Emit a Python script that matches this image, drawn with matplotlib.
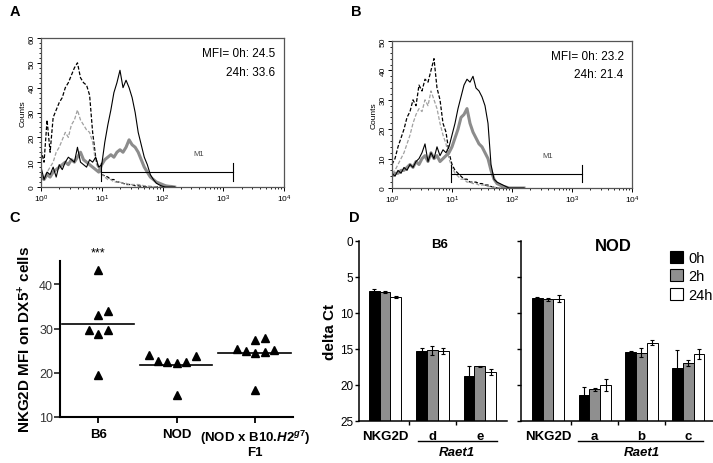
import matplotlib
matplotlib.use("Agg")
import matplotlib.pyplot as plt
import matplotlib.transforms as mtransforms
from matplotlib.patches import Patch
from matplotlib.ticker import LogLocator, NullFormatter, MultipleLocator, FixedLocator

plt.rcParams['font.family'] = ['Liberation Sans', 'DejaVu Sans']
plt.rcParams['mathtext.fontset'] = 'custom'
plt.rcParams['mathtext.rm'] = 'Liberation Sans:bold'
plt.rcParams['mathtext.it'] = 'Liberation Sans:italic:bold'
plt.rcParams['mathtext.bf'] = 'Liberation Sans:bold'

# ---- flow histograms (A, B): channel position in log10 decades ----
chan = [0.00, 0.05, 0.10, 0.15, 0.20, 0.25, 0.30, 0.35, 0.40, 0.45,
        0.50, 0.55, 0.60, 0.65, 0.70, 0.75, 0.80, 0.85, 0.90, 0.95,
        1.00, 1.05, 1.10, 1.15, 1.20, 1.25, 1.30, 1.35, 1.40, 1.45,
        1.50, 1.55, 1.60, 1.65, 1.70, 1.75, 1.80, 1.85, 1.90, 1.95,
        2.00, 2.05, 2.10, 2.15, 2.20]

a_iso_0h = [15, 10, 27, 14, 28, 31, 34, 36, 40, 42,
            45, 48, 50, 44, 42, 41, 37, 22, 12, 7,
            5, 4.5, 4, 3, 3, 2, 2, 1.5, 1, 1,
            1, 0.5, 0.5, 0.3, 0.2, 0, 0, 0, 0, 0,
            0, 0, 0, 0, 0]
a_iso_24h = [5, 4, 6, 8, 10, 14, 16, 19, 22, 20,
             25, 27, 31, 27, 25, 23, 22, 18, 10, 7,
             5, 4, 3, 3, 2, 2, 2, 1.5, 1.5, 1,
             1, 1, 1, 0.8, 0.5, 0.4, 0.3, 0.2, 0, 0,
             0, 0, 0, 0, 0]
a_nkg_0h = [8, 3, 6, 5, 8, 4, 9, 7, 10, 12,
            11, 10, 16, 10, 9, 8, 11, 10, 12, 8,
            9, 18, 25, 31, 38, 42, 47, 40, 43, 40,
            36, 30, 22, 17, 12, 9, 5, 3, 1.5, 0.8,
            0.3, 0, 0, 0, 0]
a_nkg_24h = [4, 3, 5, 4, 6, 7, 8, 9, 10, 9,
             11, 10, 12, 14, 11, 10, 9, 8, 7, 6,
             9, 11, 12, 13, 12, 14, 15, 14, 16, 19,
             17, 16, 14, 11, 8, 6, 4, 3, 2, 1.5,
             1, 0.5, 0.3, 0.2, 0]

b_iso_0h = [8, 10, 14, 17, 20, 24, 26, 30, 28, 35,
            33, 37, 36, 40, 44, 34, 30, 22, 19, 12,
            8, 6, 5, 4, 3, 3, 2, 2, 2, 1.5,
            1.5, 1, 1, 0.5, 0.3, 0, 0, 0, 0, 0,
            0, 0, 0, 0, 0]
b_iso_24h = [5, 6, 8, 10, 12, 15, 18, 22, 25, 27,
             26, 30, 28, 33, 30, 27, 22, 18, 15, 10,
             7, 5, 4, 3, 3, 2, 2, 1.5, 1.5, 1,
             1, 1, 0.5, 0.5, 0.3, 0.2, 0, 0, 0, 0,
             0, 0, 0, 0, 0]
b_nkg_0h = [5, 4, 6, 5, 7, 6, 8, 7, 9, 10,
            12, 15, 9, 12, 10, 14, 11, 13, 12, 14,
            18, 22, 27, 31, 35, 37, 36, 38, 34, 33,
            31, 28, 22, 8, 3, 2, 1.5, 1, 0.5, 0,
            0, 0, 0, 0, 0]
b_nkg_24h = [4, 5, 5, 6, 6, 7, 8, 7, 9, 8,
             10, 11, 9, 12, 10, 11, 9, 10, 11, 12,
             14, 17, 20, 24, 25, 27, 22, 19, 17, 15,
             14, 12, 10, 6, 3, 1.5, 1, 0.5, 0.3, 0,
             0, 0, 0, 0, 0]

mfi_a = ["MFI= 0h: 24.5", "24h: 33.6"]
mfi_b = ["MFI= 0h: 23.2", "24h: 21.4"]
gate_a = [9.8, 1450]
gate_b = [9.5, 1480]

# ---- panel C ----
strains = ["B6", "NOD", "(NOD x B10.$\\it{H2}^{g7}$)\nF1"]
mfi_b6 = [43.2, 33.0, 33.9, 29.6, 28.8, 29.6, 19.4]
mfi_nod = [24.0, 22.6, 22.4, 22.2, 22.5, 23.7, 14.9]
mfi_f1 = [25.4, 24.9, 27.4, 24.5, 27.9, 24.8, 25.2, 16.0]
cols_b6 = [0, 0, 1, -1, 0, 1, 0]
cols_nod = [-3, -2, -1, 0, 1, 2, 0]
cols_f1 = [-2, -1, 0, 0, 1, 1, 2, 0]

# ---- panel D: delta Ct ----
times = ["0h", "2h", "24h"]
b6_genes = ["NKG2D", "d", "e"]
b6_ct = {"0h": [6.9, 15.3, 18.7], "2h": [7.1, 15.2, 17.4], "24h": [7.8, 15.3, 18.2]}
b6_err = {"0h": [0.2, 0.45, 1.4], "2h": [0.1, 0.6, 0.1], "24h": [0.15, 0.45, 0.45]}
nod_genes = ["NKG2D", "a", "b", "c"]
nod_ct = {"0h": [7.9, 21.4, 15.4, 17.6], "2h": [8.1, 20.6, 15.5, 16.9],
          "24h": [8.0, 20.0, 14.1, 15.7]}
nod_err = {"0h": [0.1, 1.1, 0.1, 2.4], "2h": [0.2, 0.2, 0.6, 0.4],
           "24h": [0.5, 0.9, 0.4, 0.7]}

fig = plt.figure(figsize=(7.13, 4.64), dpi=100)
W, H = 713, 464


def box(x0, y0, x1, y1):
    return [x0 / W, 1 - y1 / H, (x1 - x0) / W, (y1 - y0) / H]


def flow_panel(ax, iso0, iso24, nkg0, nkg24, ymax, mfi, gate, m1_level):
    x = [10 ** c for c in chan]
    dash = (0, (3, 1.5))
    ax.plot(x, iso0, color='black', lw=0.9, ls=dash)
    ax.plot(x, iso24, color='#a0a0a0', lw=0.9, ls=dash)
    ax.plot(x, nkg24, color='#8c8c8c', lw=2.2)
    ax.plot(x, nkg0, color='black', lw=0.8)
    ax.set_xscale('log')
    ax.set_xlim(1, 1e4)
    ax.set_ylim(0, ymax)
    ax.xaxis.set_major_locator(LogLocator(base=10, numticks=10))
    ax.xaxis.set_minor_locator(LogLocator(base=10, subs=range(2, 10), numticks=50))
    ax.xaxis.set_minor_formatter(NullFormatter())
    ax.yaxis.set_major_locator(MultipleLocator(10))
    ax.yaxis.set_minor_locator(MultipleLocator(2))
    ax.tick_params(axis='both', which='major', labelsize=6, length=3, width=0.7, pad=1)
    ax.tick_params(axis='both', which='minor', length=1.5, width=0.6)
    ax.tick_params(axis='y', labelrotation=90)
    for lab in ax.get_yticklabels():
        lab.set_va('center')
    for s in ax.spines.values():
        s.set_color('#555555')
        s.set_linewidth(0.9)
    ax.set_ylabel("Counts", fontsize=6, labelpad=1)
    # M1 gate
    ax.plot(gate, [m1_level, m1_level], color='black', lw=0.8)
    for g in gate:
        ax.plot([g, g], [m1_level - 3.5 * ymax / 60, m1_level + 3.5 * ymax / 60], color='black', lw=0.8)
    ax.text(10 ** 2.6, m1_level + 7 * ymax / 60, "M1", fontsize=5.5, color='#444444', ha='center')
    fam = ['Liberation Sans Narrow', 'Liberation Sans', 'DejaVu Sans']
    ax.text(0.965, 0.9, mfi[0], transform=ax.transAxes, ha='right', va='center', fontsize=8.5, family=fam)
    ax.text(0.965, 0.775, mfi[1], transform=ax.transAxes, ha='right', va='center', fontsize=8.5, family=fam)


axA = fig.add_axes(box(41, 39, 284, 188))
flow_panel(axA, a_iso_0h, a_iso_24h, a_nkg_0h, a_nkg_24h, 60, mfi_a, gate_a, 6)
axB = fig.add_axes(box(392, 42, 632, 189))
flow_panel(axB, b_iso_0h, b_iso_24h, b_nkg_0h, b_nkg_24h, 50, mfi_b, gate_b, 4.8)

# ---- panel C ----
axC = fig.add_axes(box(60, 262, 293, 418))
step = 0.12
for i, (vals, cols) in enumerate([(mfi_b6, cols_b6), (mfi_nod, cols_nod), (mfi_f1, cols_f1)]):
    xs = [i + c * step for c in cols]
    axC.plot(xs, vals, ls='none', marker='^', color='black', markersize=6.3)
    m = sum(vals) / len(vals)
    axC.plot([i - 0.47, i + 0.45], [m, m], color='black', lw=1.2)
axC.text(0, 47.2, "***", ha='center', va='center', fontsize=9, clip_on=False)
axC.set_xlim(-0.49, 2.48)
axC.set_ylim(10, 45.3)
axC.set_yticks([10, 20, 30, 40])
axC.set_xticks([0, 1, 2])
axC.set_xticklabels(strains, fontweight='bold', fontsize=9.5, linespacing=1.0)
axC.tick_params(axis='y', labelsize=9, length=4, width=1.3, colors='#333333', pad=1)
axC.tick_params(axis='x', length=4, width=1.3, pad=4)
for s in ['top', 'right']:
    axC.spines[s].set_visible(False)
for s in ['left', 'bottom']:
    axC.spines[s].set_linewidth(1.5)
axC.set_ylabel("NKG2D MFI on DX5$^{+}$ cells", fontsize=11, fontweight='bold', labelpad=4)

# ---- panel D ----
bar_colors = {"0h": "black", "2h": "#8f8f8f", "24h": "white"}
offsets = {"0h": -0.23, "2h": 0.0, "24h": 0.23}


def ct_panel(ax, genes, ct, err, xlim):
    for t in times:
        xs = [g + offsets[t] for g in range(len(genes))]
        hts = [25 - v for v in ct[t]]
        ax.bar(xs, hts, bottom=ct[t], width=0.23, color=bar_colors[t], edgecolor='black',
               linewidth=0.7, label=t, zorder=2)
        ax.errorbar(xs, ct[t], yerr=err[t], fmt='none', ecolor='black', elinewidth=0.8,
                    capsize=1.6, capthick=0.8, zorder=3)
    ax.set_ylim(25, 0)
    ax.set_xlim(*xlim)
    ax.set_yticks([0, 5, 10, 15, 20, 25])
    ax.xaxis.set_major_locator(FixedLocator([g + 0.5 for g in range(len(genes) - 1)]))
    ax.xaxis.set_major_formatter(NullFormatter())
    ax.tick_params(axis='both', length=3, width=1, labelsize=8.5, pad=1)
    for s in ['top', 'right']:
        ax.spines[s].set_visible(False)
    for s in ['left', 'bottom']:
        ax.spines[s].set_linewidth(1.1)
    trans = mtransforms.blended_transform_factory(ax.transData, ax.transAxes)
    for g, name in enumerate(genes):
        ax.text(g, -0.083, name, transform=trans, ha='center', va='center',
                fontweight='bold', fontsize=9.5)
    return trans


axD1 = fig.add_axes(box(359, 242, 507, 422))
tr1 = ct_panel(axD1, b6_genes, b6_ct, b6_err, (-0.547, 2.57))
axD1.plot([0.69, 2.36], [-0.113, -0.113], transform=tr1, clip_on=False, color='black', lw=1)
axD1.text(1.52, -0.175, "Raet1", transform=tr1, ha='center', va='center',
          fontweight='bold', style='italic', fontsize=9.5)
axD1.text(1.16, 0.985, "B6", transform=tr1, ha='center', va='center', fontweight='bold', fontsize=9.5)
axD1.set_ylabel("delta Ct", fontsize=11, fontweight='bold', labelpad=2)

axD2 = fig.add_axes(box(521, 242, 713, 422))
tr2 = ct_panel(axD2, nod_genes, nod_ct, nod_err, (-0.578, 3.53))
axD2.set_yticklabels([])
axD2.plot([0.64, 3.32], [-0.113, -0.113], transform=tr2, clip_on=False, color='black', lw=1)
axD2.text(2.01, -0.175, "Raet1", transform=tr2, ha='center', va='center',
          fontweight='bold', style='italic', fontsize=9.5)
axD2.text(1.39, 0.975, "NOD", transform=tr2, ha='center', va='center', fontweight='bold', fontsize=12)
handles = [Patch(facecolor=bar_colors[t], edgecolor='black', linewidth=0.8) for t in times]
axD2.legend(handles, times, loc='upper right', bbox_to_anchor=(1.0, 0.945), frameon=False,
            fontsize=10.5, handlelength=0.9, handleheight=0.9, handletextpad=0.4,
            labelspacing=0.3, borderpad=0, borderaxespad=0)

# panel letters
for letter, (px, py) in zip("ABCD", [(15, 12), (356, 12), (15, 218), (354, 218)]):
    fig.text(px / W, 1 - py / H, letter, fontsize=10.5, fontweight='bold', ha='center', va='center')

fig.savefig("out.png", dpi=100)
